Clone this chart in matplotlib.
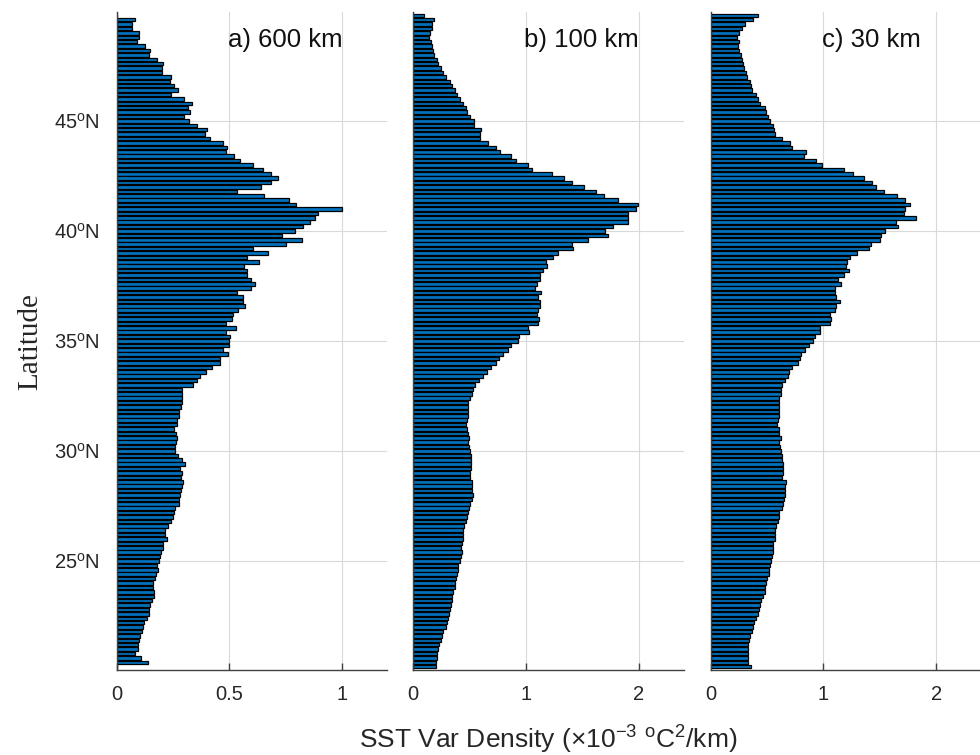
import matplotlib.pyplot as plt
import numpy as np

plt.rcParams['font.family'] = ['Liberation Sans', 'DejaVu Sans']
plt.rcParams['mathtext.fontset'] = 'custom'
plt.rcParams['mathtext.rm'] = 'Liberation Sans'
plt.rcParams['mathtext.it'] = 'Liberation Sans:italic'

# latitude of the bars, north to south
lat = np.round(np.arange(49.8, 20.1, -0.2), 1)

# SST variance density (x1e-3 oC^2/km), top to bottom
var_600 = [0.0,
    0.08, 0.066, 0.07, 0.10, 0.10, 0.09, 0.125, 0.15, 0.145, 0.18,
    0.205, 0.20, 0.20, 0.24, 0.235, 0.255, 0.27, 0.24, 0.30, 0.335,
    0.315, 0.325, 0.30, 0.32, 0.355, 0.40, 0.39, 0.415, 0.47, 0.49,
    0.485, 0.52, 0.545, 0.605, 0.65, 0.685, 0.715, 0.685, 0.64, 0.535,
    0.655, 0.765, 0.795, 1.0, 0.895, 0.88, 0.856, 0.826, 0.79,
    0.735, 0.82, 0.753, 0.603, 0.669, 0.576, 0.632, 0.566, 0.576, 0.579,
    0.595, 0.614, 0.595, 0.532, 0.561, 0.561, 0.569, 0.539, 0.517, 0.51,
    0.484, 0.529, 0.487, 0.502, 0.5, 0.5, 0.47, 0.492, 0.46, 0.458,
    0.425, 0.396, 0.369, 0.355, 0.34, 0.292, 0.292, 0.29, 0.288, 0.284,
    0.278, 0.278, 0.269, 0.266, 0.254, 0.263, 0.266, 0.265, 0.259, 0.26,
    0.273, 0.292, 0.303, 0.281, 0.292, 0.285, 0.295, 0.288, 0.285, 0.281,
    0.278, 0.275, 0.26, 0.254, 0.251, 0.239, 0.229, 0.214, 0.214, 0.222,
    0.207, 0.204, 0.195, 0.192, 0.189, 0.177, 0.182, 0.174, 0.17, 0.162,
    0.16, 0.165, 0.165, 0.155, 0.148, 0.145, 0.142, 0.133, 0.123, 0.118,
    0.111, 0.103, 0.1, 0.096, 0.096, 0.081, 0.108, 0.137,
    0.0]

var_100 = [
    0.097, 0.186, 0.168, 0.162, 0.148, 0.142, 0.154, 0.162, 0.177, 0.186,
    0.207, 0.216, 0.245, 0.26, 0.29, 0.325, 0.346, 0.369, 0.39, 0.414,
    0.437, 0.464, 0.473, 0.502, 0.538, 0.538, 0.6, 0.591, 0.591, 0.665,
    0.733, 0.768, 0.863, 0.91, 1.013, 1.055, 1.226, 1.335, 1.41, 1.515,
    1.616, 1.69, 1.817, 1.994, 1.973, 1.905, 1.905, 1.9, 1.767, 1.7,
    1.73, 1.545, 1.41, 1.418, 1.285, 1.24, 1.18, 1.19, 1.152, 1.128,
    1.123, 1.093, 1.078, 1.137, 1.108, 1.128, 1.128, 1.108, 1.099, 1.117,
    1.108, 1.013, 1.025, 0.939, 0.93, 0.871, 0.842, 0.798, 0.762, 0.733,
    0.685, 0.656, 0.62, 0.582, 0.547, 0.532, 0.523, 0.502, 0.487, 0.487,
    0.482, 0.482, 0.473, 0.467, 0.473, 0.482, 0.493, 0.487, 0.496, 0.502,
    0.511, 0.511, 0.508, 0.508, 0.502, 0.502, 0.523, 0.517, 0.517, 0.526,
    0.517, 0.502, 0.493, 0.482, 0.473, 0.464, 0.452, 0.443, 0.443, 0.443,
    0.428, 0.422, 0.428, 0.42, 0.414, 0.399, 0.393, 0.384, 0.375, 0.369,
    0.369, 0.355, 0.346, 0.34, 0.334, 0.325, 0.316, 0.304, 0.295, 0.287,
    0.266, 0.257, 0.242, 0.23, 0.222, 0.213, 0.207, 0.2, 0.2]

var_30 = [
    0.422, 0.372, 0.304, 0.274, 0.254, 0.236, 0.254, 0.245, 0.254, 0.265,
    0.274, 0.283, 0.298, 0.313, 0.324, 0.348, 0.357, 0.369, 0.401, 0.422,
    0.437, 0.481, 0.49, 0.51, 0.525, 0.549, 0.56, 0.569, 0.628, 0.702,
    0.717, 0.844, 0.826, 0.932, 0.991, 1.183, 1.263, 1.36, 1.434, 1.463,
    1.537, 1.655, 1.72, 1.77, 1.72, 1.711, 1.823, 1.646, 1.661, 1.543,
    1.513, 1.499, 1.425, 1.404, 1.298, 1.239, 1.209, 1.204, 1.227, 1.18,
    1.13, 1.159, 1.1, 1.106, 1.109, 1.145, 1.115, 1.1, 1.062, 1.071,
    1.056, 0.973, 0.968, 0.929, 0.909, 0.87, 0.835, 0.805, 0.791, 0.77,
    0.717, 0.696, 0.687, 0.658, 0.628, 0.622, 0.622, 0.608, 0.605, 0.605,
    0.602, 0.602, 0.599, 0.59, 0.605, 0.608, 0.619, 0.608, 0.614, 0.622,
    0.628, 0.631, 0.637, 0.643, 0.637, 0.628, 0.667, 0.658, 0.658, 0.658,
    0.652, 0.643, 0.628, 0.605, 0.605, 0.599, 0.578, 0.569, 0.569, 0.569,
    0.549, 0.555, 0.549, 0.54, 0.531, 0.525, 0.516, 0.516, 0.501, 0.49,
    0.481, 0.481, 0.46, 0.445, 0.437, 0.431, 0.416, 0.401, 0.386, 0.378,
    0.363, 0.348, 0.342, 0.333, 0.333, 0.333, 0.333, 0.333, 0.354]

panels = [(var_600, 'a) 600 km', 1.2, [0, 0.5, 1], ['0', '0.5', '1']),
          (var_100, 'b) 100 km', 2.4, [0, 1, 2], ['0', '1', '2']),
          (var_30, 'c) 30 km', 2.4, [0, 1, 2], ['0', '1', '2'])]
lefts = [0.119, 0.4217, 0.7252]
lat_ticks = [25, 30, 35, 40, 45]
lat_labels = [r'%d$^{\mathrm{o}}$N' % v for v in lat_ticks]

fig = plt.figure(figsize=(9.8, 7.55), dpi=100)
for i, (vals, title, xmax, xt, xtl) in enumerate(panels):
    ax = fig.add_axes([lefts[i], 0.1126, 0.2762, 0.8715])
    ax.barh(lat, vals, height=0.16, color='#0072BD', edgecolor='black', linewidth=0.9)
    ax.set_xlim(0, xmax)
    ax.set_ylim(20.05, 49.95)
    ax.set_axisbelow(True)
    ax.grid(True, color='#d9d9d9', linewidth=0.8)
    ax.spines['top'].set_visible(False)
    ax.spines['right'].set_visible(False)
    for s in ['left', 'bottom']:
        ax.spines[s].set_color('#404040')
        ax.spines[s].set_linewidth(1.0)
    ax.set_xticks(xt)
    ax.set_xticklabels(xtl)
    ax.set_yticks(lat_ticks)
    if i == 0:
        ax.set_yticklabels(lat_labels)
    else:
        ax.set_yticklabels([])
    ax.tick_params(axis='both', direction='in', length=5, width=1, colors='#404040',
                   labelcolor='#262626', labelsize=14.5)
    ax.tick_params(axis='x', pad=11)
    ax.tick_params(axis='y', pad=12)
    ax.text(0.41, 0.957, title, transform=ax.transAxes, fontsize=18.5,
            ha='left', va='center', color='#111111')

fig.text(0.031, 0.547, 'Latitude', rotation=90, fontsize=21, family='Liberation Serif',
         ha='center', va='center', color='#262626')
fig.text(0.559, 0.02, r'SST Var Density ($\times$10$^{-3}$ $^{\mathrm{o}}$C$^{2}$/km)',
         fontsize=19, ha='center', va='center', color='#262626')

fig.savefig('out.png', dpi=100)
